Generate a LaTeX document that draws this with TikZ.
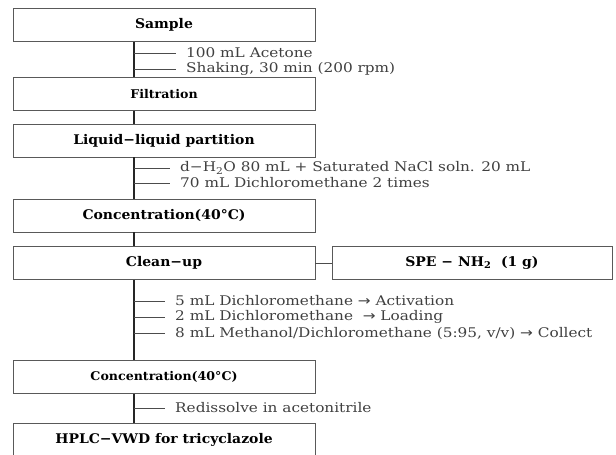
\documentclass[tikz,border=0pt]{standalone}
\usepackage{fontspec}
\setmainfont[FakeStretch=1.15]{DejaVu Serif}
\newfontfamily\boxfont[FakeStretch=1.05]{DejaVu Serif}
\newfontfamily\arrowfont[FakeStretch=1.15]{DejaVu Sans}
\newcommand{\arr}{{\arrowfont →}}
\begin{document}
\begin{tikzpicture}[
    x=1pt, y=-1pt,
    box/.style={draw=black!65, fill=white, line width=0.9pt, minimum width=302pt,
      minimum height=33pt, inner sep=0pt, font=\boxfont\bfseries\fontsize{13.3}{15}\selectfont},
    small/.style={font=\boxfont\bfseries\fontsize{12}{14}\selectfont},
    note/.style={anchor=west, inner sep=0pt, text=black!75, font=\fontsize{13.3}{15}\selectfont},
    link/.style={draw=black!85, line width=1.2pt},
    tick/.style={draw=black!70, line width=0.7pt}
  ]
  \useasboundingbox (0,0) rectangle (616,455);
  \coordinate (ax) at (134,0);
  % main steps
  \node[box] (sample) at (164,25) {Sample};
  \node[box, small] (filt) at (164,94) {Filtration};
  \node[box] (part) at (164,140.5) {Liquid−liquid partition};
  \node[box] (conc) at (164,215.5) {Concentration(40°C)};
  \node[box] (clean) at (164,263) {Clean−up};
  \node[box, minimum width=280pt] (spe) at (472,263) {SPE − NH\textsubscript{2} \ (1 g)};
  \node[box, small] (conc2) at (164,377) {Concentration(40°C)};
  \node[box] (hplc) at (164,440) {HPLC−VWD for tricyclazole};
  % main line
  \draw[link] (sample.south -| ax) -- (filt.north -| ax);
  \draw[link] (filt.south -| ax) -- (part.north -| ax);
  \draw[link] (part.south -| ax) -- (conc.north -| ax);
  \draw[link] (conc.south -| ax) -- (clean.north -| ax);
  \draw[link] (clean.south -| ax) -- (conc2.north -| ax);
  \draw[link] (conc2.south -| ax) -- (hplc.north -| ax);
  \draw[tick] (clean.east) -- (spe.west);
  % conditions
  \node[note] (n1) at (186,53) {100 mL Acetone};
  \node[note] (n2) at (186,69) {Shaking, 30 min (200 rpm)};
  \node[note] (n3) at (180,168) {d−H\textsubscript{2}O 80 mL + Saturated NaCl soln. 20 mL};
  \node[note] (n4) at (180,183) {70 mL Dichloromethane 2 times};
  \node[note] (n5) at (175,301) {5 mL Dichloromethane \arr{} Activation};
  \node[note] (n6) at (175,317) {2 mL Dichloromethane \ \arr{} Loading};
  \node[note] (n7) at (175,333) {8 mL Methanol/Dichloromethane (5:95, v/v) \arr{} Collect};
  \node[note] (n8) at (175,408) {Redissolve in acetonitrile};
  \foreach \n in {n1,n2,n3,n4,n5,n6,n7,n8}
    \draw[tick] (\n.west -| ax) -- ([xshift=-10pt]\n.west);
\end{tikzpicture}
\end{document}
